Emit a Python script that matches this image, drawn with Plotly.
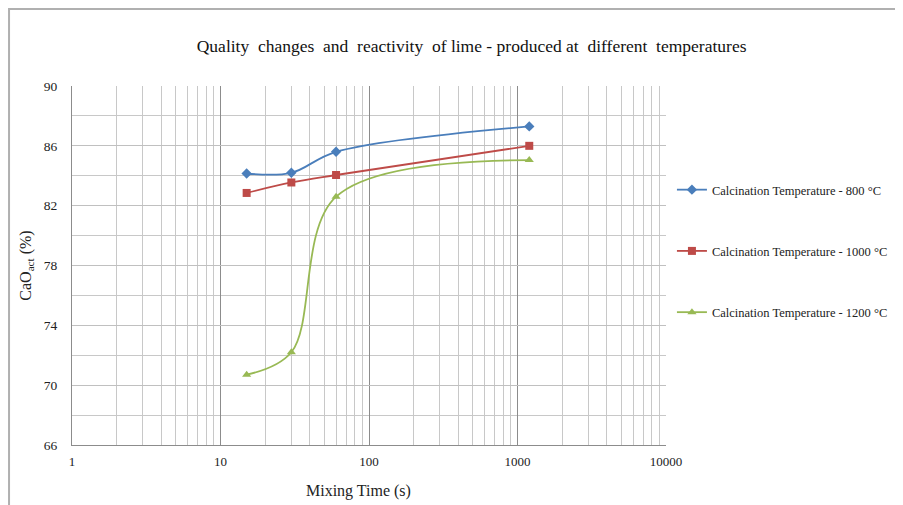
import plotly.graph_objects as go

mixing_time = [15, 30, 60, 1200]
cao_800 = [84.15, 84.2, 85.6, 87.3]
cao_1000 = [82.85, 83.55, 84.05, 86.0]
cao_1200 = [70.7, 72.2, 82.6, 85.05]

series_names = [
    "Calcination Temperature - 800 °C",
    "Calcination Temperature - 1000 °C",
    "Calcination Temperature - 1200 °C",
]
x_tick_vals = [1, 10, 100, 1000, 10000]
x_tick_text = ["1", "10", "100", "1000", "10000"]
y_tick_vals = [66, 70, 74, 78, 82, 86, 90]

font_family = "Liberation Serif, Times New Roman, serif"

fig = go.Figure()
styles = [
    (cao_800, "#4a7ebb", "diamond"),
    (cao_1000, "#be4b48", "square"),
    (cao_1200, "#98b954", "triangle-up"),
]
for i, ((vals, color, sym), name) in enumerate(zip(styles, series_names)):
    fig.add_trace(go.Scatter(
        x=mixing_time, y=vals, name=name, mode="lines+markers", legendgroup=f"g{i}",
        line=dict(color=color, width=1.8, shape="spline", smoothing=1.0),
        marker=dict(symbol=sym, size=8, color=color),
    ))

minor_x = [m * 10 ** d for d in range(4) for m in range(2, 10)]

# the page body has an 8px margin: figure is 8px smaller and margins shifted
fig.update_layout(
    width=895, height=497,
    margin=dict(l=64, r=237, t=78, b=60, autoexpand=False),
    paper_bgcolor="white", plot_bgcolor="white",
    font=dict(family=font_family, size=13, color="#222"),
    title=dict(text="Quality  changes  and  reactivity  of lime - produced at  different  temperatures",
               x=0.518, xanchor="center", y=0.924, yanchor="middle",
               font=dict(size=17.5, family=font_family, color="#111")),
    showlegend=True,
    legend=dict(x=1.01, y=0.752, xanchor="left", yanchor="top",
                font=dict(size=12.5, family=font_family), tracegroupgap=42,
                bgcolor="rgba(0,0,0,0)", itemwidth=30),
    xaxis=dict(type="log", range=[0, 4], tickmode="array", tickvals=x_tick_vals,
               ticktext=x_tick_text, showgrid=True, gridcolor="#8c8c8c", gridwidth=1,
               showline=True, linecolor="#8c8c8c", ticks="", ticklabelstandoff=4,
               tickfont=dict(size=13),
               minor=dict(tickmode="array", tickvals=minor_x, showgrid=True,
                          gridcolor="#c8c8c8", gridwidth=1, ticks=""),
               zeroline=False),
    yaxis=dict(range=[66, 90], tickmode="array", tickvals=y_tick_vals,
               showgrid=True, gridcolor="#c0c0c0", gridwidth=1,
               showline=True, linecolor="#8c8c8c", ticks="", ticklabelstandoff=11,
               tickfont=dict(size=13.5),
               minor=dict(dtick=2, showgrid=True, gridcolor="#c8c8c8", gridwidth=1),
               title=dict(text="CaO<sub>act</sub> (%)", font=dict(size=16, family=font_family), standoff=8),
               zeroline=False),
    annotations=[dict(text="Mixing Time (s)", xref="paper", yref="paper", x=0.483, y=-0.128,
                      xanchor="center", yanchor="middle", showarrow=False,
                      font=dict(size=16, family=font_family, color="#222"))],
    shapes=[dict(type="rect", xref="paper", yref="paper", x0=-0.106, x1=1.6, y0=-0.5, y1=1.2145,
                 line=dict(color="#b0b0b0", width=2))],
)
fig.write_html("out.html")
